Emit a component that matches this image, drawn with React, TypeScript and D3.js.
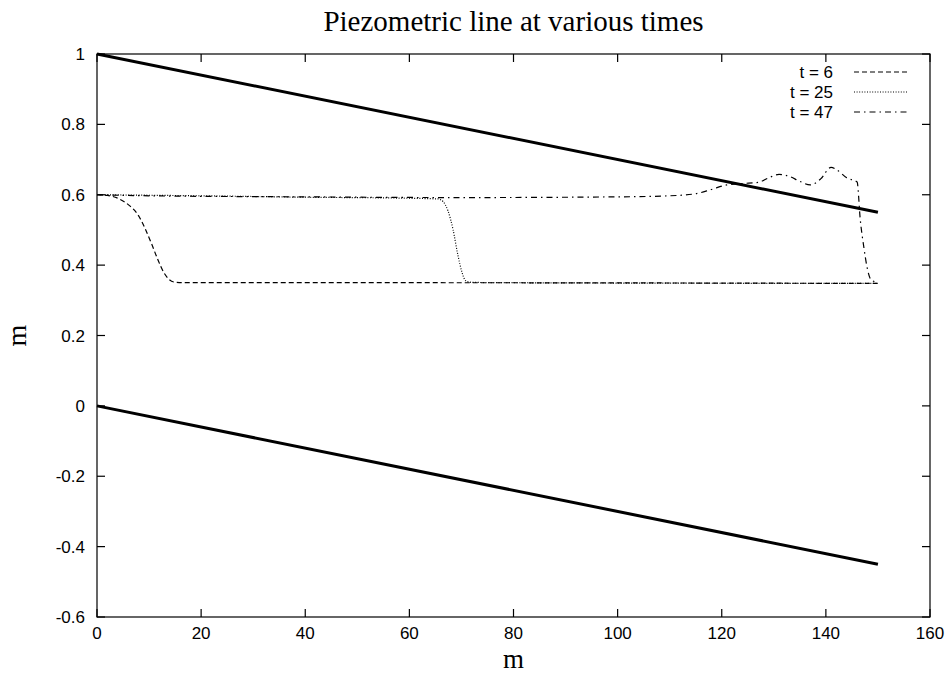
import React from "react";
import * as d3 from "d3";

const W = 951;
const H = 675;

const xTicks = [0, 20, 40, 60, 80, 100, 120, 140, 160];
const yTicks = [-0.6, -0.4, -0.2, 0, 0.2, 0.4, 0.6, 0.8, 1];
const yTickLabels = ["-0.6", "-0.4", "-0.2", "0", "0.2", "0.4", "0.6", "0.8", "1"];

const topLine: [number, number][] = [[0, 1], [150, 0.55]];
const bottomLine: [number, number][] = [[0, 0], [150, -0.45]];

const t6: [number, number][] = [
  [0, 0.6], [2, 0.598], [4, 0.59], [6, 0.572], [8, 0.54], [9.2, 0.505], [10.5, 0.46],
  [11.7, 0.415], [12.8, 0.38], [13.8, 0.36], [14.8, 0.352], [17, 0.35], [60, 0.35], [150, 0.348],
];
const t25: [number, number][] = [
  [0, 0.6], [20, 0.597], [40, 0.593], [60, 0.59], [65.5, 0.588], [66.5, 0.58], [67.4, 0.555],
  [68.4, 0.5], [69.3, 0.43], [70.1, 0.38], [70.8, 0.356], [72, 0.351], [80, 0.35], [150, 0.348],
];
const t47: [number, number][] = [
  [0, 0.6], [10, 0.597], [40, 0.594], [70, 0.592], [100, 0.594], [110, 0.597], [115, 0.603],
  [118, 0.615], [121, 0.628], [124, 0.632], [127, 0.635], [129, 0.648], [131, 0.658],
  [133, 0.652], [135, 0.638], [137, 0.628], [139, 0.645], [141, 0.678], [142, 0.672],
  [144, 0.648], [146, 0.636], [146.6, 0.53], [147.3, 0.45], [147.9, 0.395], [148.6, 0.36],
  [149.5, 0.352], [150, 0.35],
];

const seriesNames = ["t = 6", "t = 25", "t = 47"];
const seriesData = [t6, t25, t47];
const seriesDash = ["5,3", "1,1.6", "6,4,1.5,4"];

const margin = { left: 97, right: 930, top: 54, bottom: 617 };

export default function App() {
  const x = d3.scaleLinear().domain([0, 160]).range([margin.left, margin.right]);
  const y = d3.scaleLinear().domain([-0.6, 1]).range([margin.bottom, margin.top]);
  const line = d3
    .line<[number, number]>()
    .x((d) => x(d[0]))
    .y((d) => y(d[1]))
    .curve(d3.curveMonotoneX);
  const straight = d3
    .line<[number, number]>()
    .x((d) => x(d[0]))
    .y((d) => y(d[1]));

  const sans = "'Liberation Sans', Arial, Helvetica, sans-serif";
  const serif = "'Liberation Serif', 'Times New Roman', serif";
  const tickLen = 8;

  return (
    <svg
      width={W}
      height={H}
      style={{ position: "absolute", left: 0, top: 0, background: "#fff" }}
    >
      <rect x={0} y={0} width={W} height={H} fill="#fff" />
      <text x={(margin.left + margin.right) / 2} y={31} textAnchor="middle" fontFamily={serif} fontSize={29}>
        Piezometric line at various times
      </text>

      {/* frame */}
      <rect
        x={margin.left}
        y={margin.top}
        width={margin.right - margin.left}
        height={margin.bottom - margin.top}
        fill="none"
        stroke="#000"
        strokeWidth={1.2}
      />

      {/* x ticks */}
      {xTicks.map((t) => (
        <g key={"x" + t}>
          <line x1={x(t)} x2={x(t)} y1={margin.bottom} y2={margin.bottom - tickLen} stroke="#000" strokeWidth={1.2} />
          <line x1={x(t)} x2={x(t)} y1={margin.top} y2={margin.top + tickLen} stroke="#000" strokeWidth={1.2} />
          <text x={x(t)} y={margin.bottom + 22} textAnchor="middle" fontFamily={sans} fontSize={17}>
            {t}
          </text>
        </g>
      ))}

      {/* y ticks */}
      {yTicks.map((t, i) => (
        <g key={"y" + t}>
          <line x1={margin.left} x2={margin.left + tickLen} y1={y(t)} y2={y(t)} stroke="#000" strokeWidth={1.2} />
          <line x1={margin.right} x2={margin.right - tickLen} y1={y(t)} y2={y(t)} stroke="#000" strokeWidth={1.2} />
          <text x={margin.left - 12} y={y(t) + 6} textAnchor="end" fontFamily={sans} fontSize={17}>
            {yTickLabels[i]}
          </text>
        </g>
      ))}

      {/* axis labels */}
      <text x={(margin.left + margin.right) / 2} y={668} textAnchor="middle" fontFamily={serif} fontSize={27}>
        m
      </text>
      <text
        transform={`translate(26, ${(margin.top + margin.bottom) / 2}) rotate(-90)`}
        textAnchor="middle"
        fontFamily={serif}
        fontSize={28}
      >
        m
      </text>

      {/* thick lines */}
      <path d={straight(topLine) || ""} fill="none" stroke="#000" strokeWidth={3} />
      <path d={straight(bottomLine) || ""} fill="none" stroke="#000" strokeWidth={3} />

      {/* series */}
      {seriesData.map((s, i) => (
        <path key={"s" + i} d={line(s) || ""} fill="none" stroke="#000" strokeWidth={1.2} strokeDasharray={seriesDash[i]} />
      ))}

      {/* legend */}
      {seriesNames.map((n, i) => (
        <g key={"l" + i}>
          <text x={833} y={72 + i * 20 + 6} textAnchor="end" fontFamily={sans} fontSize={17}>
            {n}
          </text>
          <line x1={854} x2={907} y1={72 + i * 20} y2={72 + i * 20} stroke="#000" strokeWidth={1.2} strokeDasharray={seriesDash[i]} />
        </g>
      ))}
    </svg>
  );
}
